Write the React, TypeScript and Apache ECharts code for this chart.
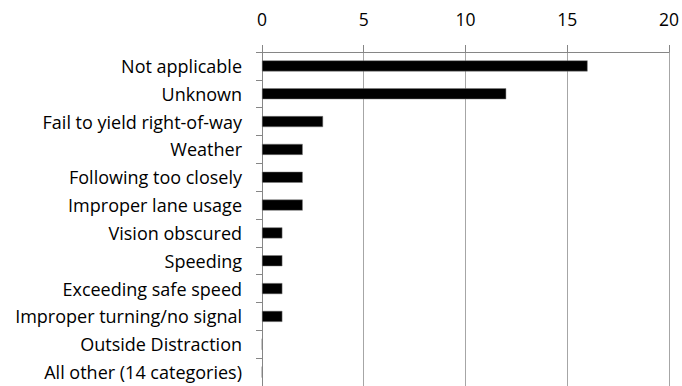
import React, { useEffect, useRef } from "react";
import * as echarts from "echarts";

const categories = [
  "Not applicable",
  "Unknown",
  "Fail to yield right-of-way",
  "Weather",
  "Following too closely",
  "Improper lane usage",
  "Vision obscured",
  "Speeding",
  "Exceeding safe speed",
  "Improper turning/no signal",
  "Outside Distraction",
  "All other (14 categories)",
];
const values = [16, 12, 3, 2, 2, 2, 1, 1, 1, 1, 0, 0];
const xTicks = [0, 5, 10, 15, 20];

export default function App() {
  const ref = useRef<HTMLDivElement>(null);
  useEffect(() => {
    document.body.style.margin = "0";
    const chart = echarts.init(ref.current!, null, { renderer: "svg" });
    const font = "Open Sans";
    chart.setOption({
      animation: false,
      backgroundColor: "#ffffff",
      grid: { left: 262, right: 12, top: 52, bottom: 0, containLabel: false },
      xAxis: {
        type: "value",
        position: "top",
        min: xTicks[0],
        max: xTicks[xTicks.length - 1],
        interval: 5,
        axisLine: { show: true, lineStyle: { color: "#868686", width: 1 } },
        axisTick: { show: true, inside: false, length: 7, lineStyle: { color: "#868686" } },
        splitLine: { show: true, lineStyle: { color: "#a6a6a6", width: 1 } },
        axisLabel: { color: "#000", fontSize: 17.5, fontFamily: font, margin: 24 },
      },
      yAxis: {
        type: "category",
        inverse: true,
        data: categories,
        axisLine: { show: true, lineStyle: { color: "#868686", width: 1 } },
        axisTick: { show: true, length: 6, lineStyle: { color: "#868686" } },
        axisLabel: { color: "#000", fontSize: 18, fontFamily: font, margin: 20 },
      },
      series: [
        {
          type: "bar",
          data: values,
          barWidth: 11,
          itemStyle: { color: "#000", borderColor: "#7f7f7f", borderWidth: 0.5 },
        },
      ],
    });
    return () => chart.dispose();
  }, []);
  return <div ref={ref} style={{ width: 682, height: 386 }} />;
}
